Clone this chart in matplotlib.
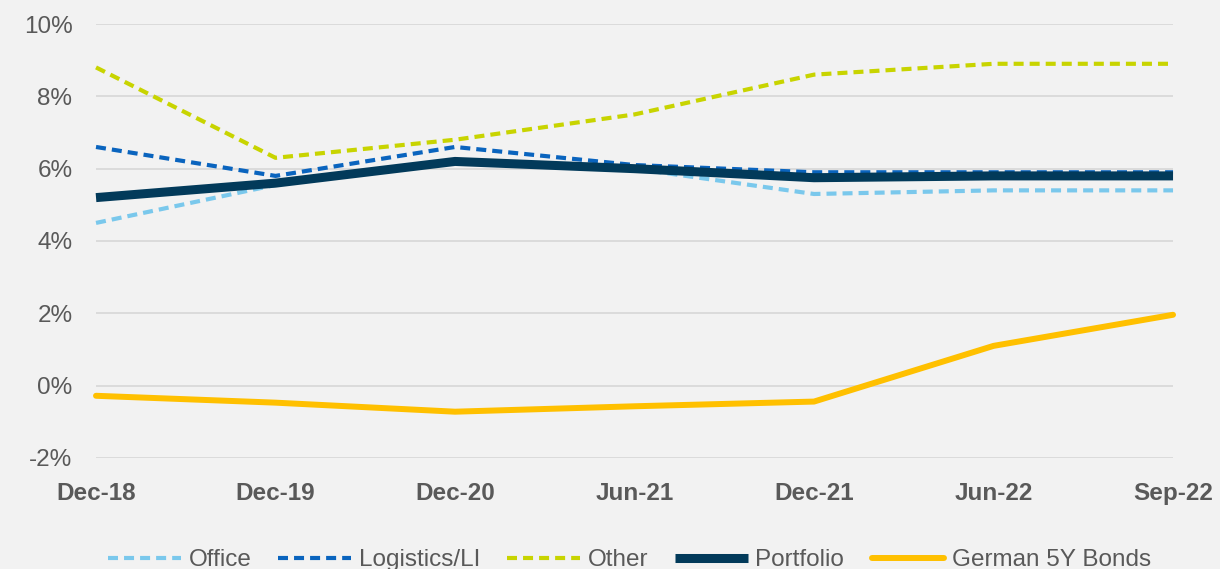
import matplotlib.pyplot as plt
from matplotlib.ticker import FuncFormatter

# --- data ---
periods = ["Dec-18", "Dec-19", "Dec-20", "Jun-21", "Dec-21", "Jun-22", "Sep-22"]
office = [4.5, 5.55, 6.2, 6.0, 5.3, 5.4, 5.4]
logistics = [6.6, 5.8, 6.6, 6.1, 5.9, 5.9, 5.9]
other = [8.8, 6.3, 6.8, 7.5, 8.6, 8.9, 8.9]
portfolio = [5.2, 5.6, 6.2, 6.0, 5.75, 5.8, 5.8]
bonds = [-0.28, -0.47, -0.72, -0.57, -0.44, 1.1, 1.96]

bg_color = "#F2F2F2"
text_color = "#595959"
grid_color = "#D9D9D9"

plt.rcParams["font.family"] = ["Liberation Sans", "DejaVu Sans"]

fig = plt.figure(figsize=(12.2, 5.69), dpi=100)
fig.patch.set_facecolor(bg_color)
ax = fig.add_axes([0.0787, 0.1951, 0.9615 - 0.0787, 0.9578 - 0.1951])
ax.set_facecolor(bg_color)

x = list(range(len(periods)))

dash_kw = dict(lw=3, dashes=[2.4, 1.45], dash_capstyle="butt", clip_on=False)
ax.plot(x, office, color="#7AC8EC", label="Office", zorder=3, **dash_kw)
ax.plot(x, logistics, color="#0A64BE", label="Logistics/LI", zorder=3, **dash_kw)
ax.plot(x, other, color="#C8D400", label="Other", zorder=3, **dash_kw)
ax.plot(x, portfolio, color="#023A5A", lw=6.5, label="Portfolio",
        solid_capstyle="butt", zorder=4, clip_on=False)
ax.plot(x, bonds, color="#FFC000", lw=4.3, label="German 5Y Bonds",
        solid_capstyle="round", zorder=4, clip_on=False)

ax.set_xlim(0, len(periods) - 1)
ax.set_ylim(-2, 10)
ax.set_yticks(range(-2, 11, 2))
ax.yaxis.set_major_formatter(FuncFormatter(lambda v, p: f"{v:.0f}%"))
ax.set_xticks(x)
ax.set_xticklabels(periods, fontweight="bold")

ax.grid(axis="y", color=grid_color, lw=1.3, zorder=0)
ax.set_axisbelow(True)
for s in ax.spines.values():
    s.set_visible(False)
ax.tick_params(axis="both", length=0, labelsize=17.5, labelcolor=text_color)
ax.tick_params(axis="x", pad=17)
ax.tick_params(axis="y", pad=17)

leg = fig.legend(loc="center", bbox_to_anchor=(0.516, 0.015), ncol=5,
                 frameon=False, fontsize=17.5, handlelength=3.0,
                 handletextpad=0.3, columnspacing=1.12)
for t in leg.get_texts():
    t.set_color(text_color)

fig.savefig("out.png", facecolor=bg_color, dpi=100)
